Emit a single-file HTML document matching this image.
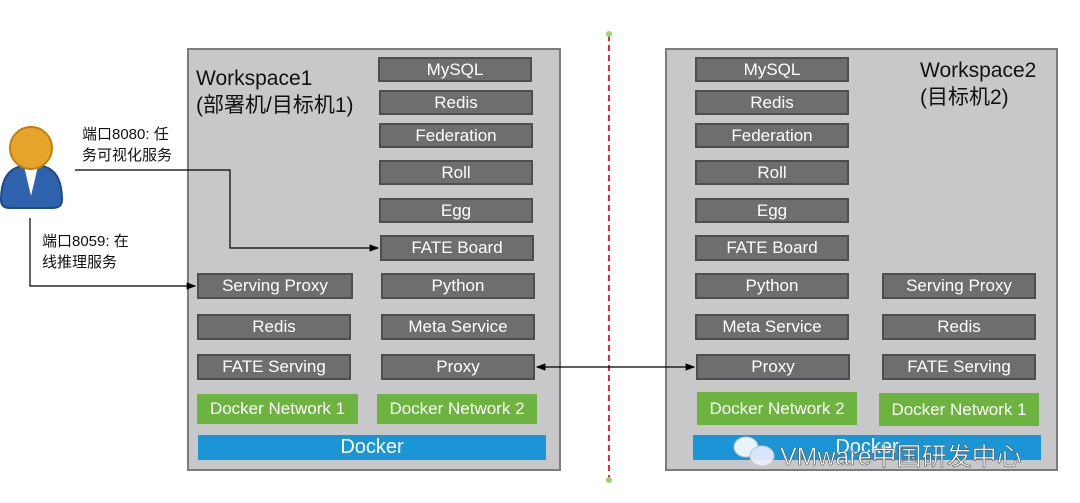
<!DOCTYPE html>
<html><head><meta charset="utf-8"><style>
body{margin:0;width:1080px;height:503px;background:#fff;position:relative;overflow:hidden;font-family:"Liberation Sans","Noto Sans CJK SC",sans-serif}
.ws{position:absolute;background:#c8c8ca;border:2px solid #7c7c7e;box-sizing:border-box}
.b{position:absolute;background:#6e6e71;border:2px solid #4e4e51;box-sizing:border-box;color:#fff;font-size:17px;text-align:center;display:flex;align-items:center;justify-content:center}
.g{position:absolute;background:#6db33f;color:#fff;font-size:17px;display:flex;align-items:center;justify-content:center}
.d{position:absolute;background:#1a95d6;color:#fff;font-size:20px;display:flex;align-items:center;justify-content:center}
.t{position:absolute;color:#111}
</style></head><body>
<div class="ws" style="left:187px;top:48px;width:374px;height:423px"></div>
<div class="ws" style="left:665px;top:48px;width:393px;height:423px"></div>
<div class="t" style="left:196px;top:65px;font-size:21px;line-height:27px">Workspace1<br>(部署机/目标机1)</div>
<div class="t" style="left:920px;top:57px;font-size:21px;line-height:27px">Workspace2<br>(目标机2)</div>
<div class="t" style="left:82px;top:124px;font-size:15px;line-height:21px">端口8080: 任<br>务可视化服务</div>
<div class="t" style="left:42px;top:231px;font-size:15px;line-height:21px">端口8059: 在<br>线推理服务</div>

<div class="b" style="left:378px;top:57px;width:154px;height:25px">MySQL</div>
<div class="b" style="left:379px;top:90px;width:154px;height:25px">Redis</div>
<div class="b" style="left:379px;top:123px;width:154px;height:25px">Federation</div>
<div class="b" style="left:379px;top:160px;width:154px;height:25px">Roll</div>
<div class="b" style="left:379px;top:198px;width:154px;height:25px">Egg</div>
<div class="b" style="left:380px;top:235px;width:154px;height:26px">FATE Board</div>
<div class="b" style="left:381px;top:273px;width:154px;height:26px">Python</div>
<div class="b" style="left:381px;top:314px;width:154px;height:26px">Meta Service</div>
<div class="b" style="left:381px;top:354px;width:154px;height:26px">Proxy</div>
<div class="b" style="left:197px;top:273px;width:156px;height:26px">Serving Proxy</div>
<div class="b" style="left:197px;top:314px;width:154px;height:26px">Redis</div>
<div class="b" style="left:197px;top:354px;width:154px;height:26px">FATE Serving</div>
<div class="g" style="left:197px;top:394px;width:161px;height:30px">Docker Network 1</div>
<div class="g" style="left:377px;top:394px;width:160px;height:30px">Docker Network 2</div>
<div class="d" style="left:198px;top:435px;width:348px;height:25px">Docker</div>

<div class="b" style="left:695px;top:57px;width:154px;height:25px">MySQL</div>
<div class="b" style="left:695px;top:90px;width:154px;height:25px">Redis</div>
<div class="b" style="left:695px;top:123px;width:154px;height:25px">Federation</div>
<div class="b" style="left:695px;top:160px;width:154px;height:25px">Roll</div>
<div class="b" style="left:695px;top:198px;width:154px;height:25px">Egg</div>
<div class="b" style="left:695px;top:235px;width:154px;height:26px">FATE Board</div>
<div class="b" style="left:695px;top:273px;width:154px;height:26px">Python</div>
<div class="b" style="left:695px;top:314px;width:154px;height:26px">Meta Service</div>
<div class="b" style="left:696px;top:354px;width:154px;height:26px">Proxy</div>
<div class="b" style="left:882px;top:273px;width:154px;height:26px">Serving Proxy</div>
<div class="b" style="left:882px;top:314px;width:154px;height:26px">Redis</div>
<div class="b" style="left:882px;top:354px;width:154px;height:26px">FATE Serving</div>
<div class="g" style="left:697px;top:392px;width:160px;height:33px">Docker Network 2</div>
<div class="g" style="left:879px;top:393px;width:160px;height:33px">Docker Network 1</div>
<div class="d" style="left:693px;top:435px;width:348px;height:25px">Docker</div>

<svg width="1080" height="503" style="position:absolute;left:0;top:0">
<defs><marker id="a" markerWidth="8" markerHeight="8" refX="7" refY="4" orient="auto-start-reverse"><path d="M0,1 L8,4 L0,7z" fill="#000"/></marker></defs>
<line x1="609" y1="35" x2="609" y2="480" stroke="#e8283a" stroke-width="2" stroke-dasharray="6,4"/>
<circle cx="609" cy="34" r="3" fill="#9ad36a"/><circle cx="609" cy="480" r="3" fill="#9ad36a"/>
<polyline points="75,170 230,170 230,248 378,248" fill="none" stroke="#000" stroke-width="1.2" marker-end="url(#a)"/>
<polyline points="30,218 30,286 195,286" fill="none" stroke="#000" stroke-width="1.2" marker-end="url(#a)"/>
<line x1="537" y1="367" x2="694" y2="367" stroke="#000" stroke-width="1.2" marker-start="url(#a)" marker-end="url(#a)"/>
<path d="M1,200 Q1,170 22,166 L42,166 Q62,170 62,200 Q62,208 52,208 L10,208 Q1,208 1,200 Z" fill="#2f62ad" stroke="#1f4a8a" stroke-width="2"/>
<path d="M24,166 L31,196 L38,166 Z" fill="#fff"/>
<circle cx="31" cy="148" r="21" fill="#e7a42a" stroke="#c07e10" stroke-width="2"/>
<g opacity="0.9"><ellipse cx="746" cy="447" rx="12" ry="10" fill="#fff" stroke="#ccc"/><ellipse cx="762" cy="456" rx="12" ry="10" fill="#eef" stroke="#ccc"/></g>
<text x="780" y="465" font-size="25" fill="#fff" stroke="#555" stroke-width="0.6" font-family="Liberation Sans, Noto Sans CJK SC, sans-serif">VMware中国研发中心</text>
</svg>
</body></html>
